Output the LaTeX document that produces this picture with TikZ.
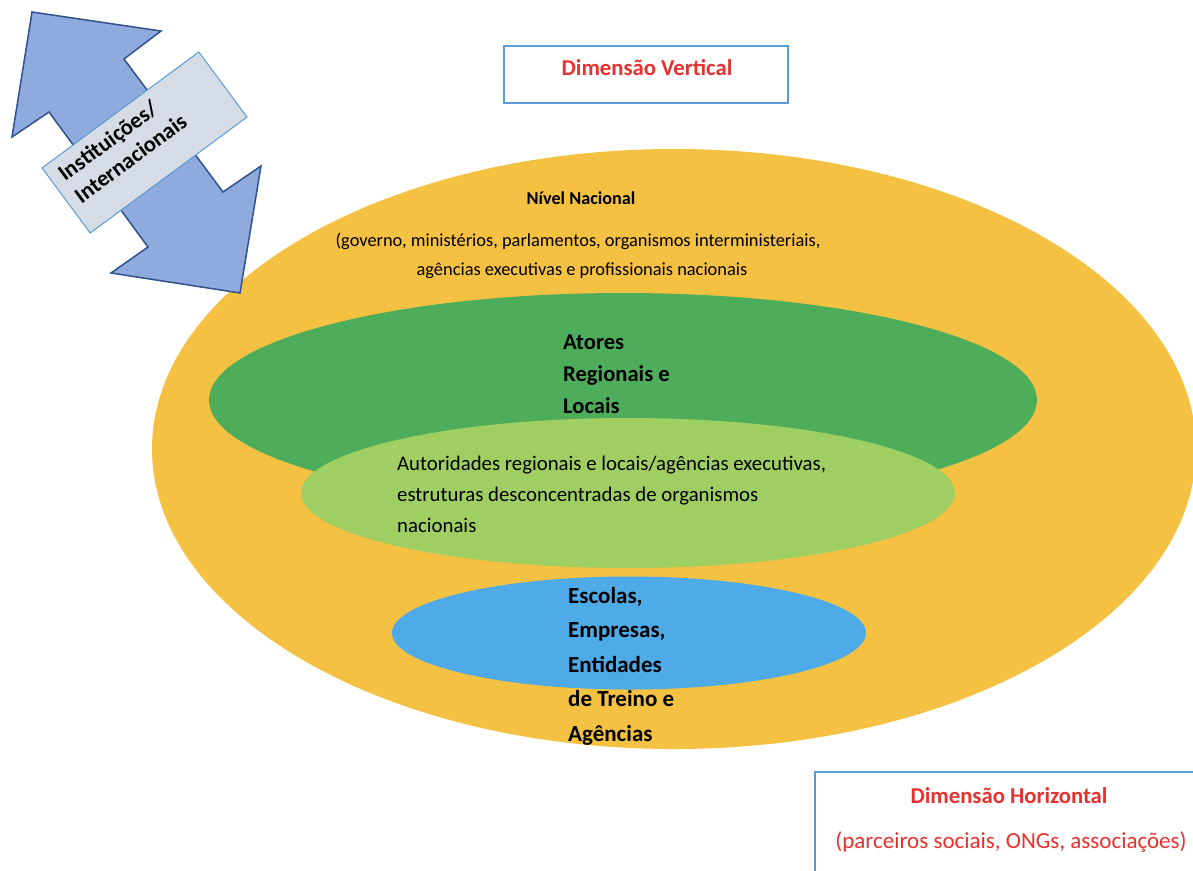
\documentclass[tikz,border=0pt]{standalone}
\usepackage{fontspec}
\setmainfont{Carlito}
\usetikzlibrary{shapes.geometric}
\definecolor{orangeY}{HTML}{F4C142}
\definecolor{dgreen}{HTML}{4EAD5B}
\definecolor{lgreen}{HTML}{9FCF63}
\definecolor{blueE}{HTML}{4EABE8}
\definecolor{arrowfill}{HTML}{8FAADC}
\definecolor{arrowline}{HTML}{2F528F}
\definecolor{boxfill}{HTML}{D6DCE5}
\definecolor{boxline}{HTML}{5B9BD5}
\definecolor{redt}{HTML}{E8312F}
\begin{document}
\begin{tikzpicture}[x=1pt,y=-1pt,
  ell/.style={ellipse, inner sep=0pt, outer sep=0pt, draw=none},
  bigbold/.style={align=left, inner sep=0pt, anchor=base west, font=\fontsize{22.6}{32}\selectfont\bfseries},
  plain/.style={inner sep=0pt, anchor=base, font=\fontsize{18.4}{28}\selectfont},
  redtitle/.style={inner sep=0pt, anchor=base, text=redt, font=\fontsize{22.7}{26}\selectfont\bfseries},
  redplain/.style={inner sep=0pt, anchor=base, text=redt, font=\fontsize{23}{26}\selectfont},
  dimbox/.style={draw=boxline, line width=1.3pt, fill=white, inner sep=0pt}
]
\useasboundingbox (0,0) rectangle (1193,870);
\clip (0,0) rectangle (1193,870);
\fill[white] (0,0) rectangle (1193,870);

% ellipses
\node[ell, fill=orangeY, minimum width=1044pt, minimum height=600pt] (nac) at (674,449) {};
\node[ell, fill=dgreen, minimum width=828pt, minimum height=214pt] (reg) at (623,400) {};
\node[ell, fill=lgreen, minimum width=654pt, minimum height=150pt] (aut) at (628,493) {};
\node[ell, fill=blueE, minimum width=474pt, minimum height=113pt] (esc) at (629,633) {};

% national texts
\node[plain, font=\fontsize{18.2}{24}\selectfont\bfseries] (nivel) at (581,204) {Nível Nacional};
\node[plain] (gov1) at (578,246) {(governo, ministérios, parlamentos, organismos interministeriais,};
\node[plain] (gov2) at (582,275) {agências executivas e profissionais nacionais};

\node[bigbold] (atores) at (563,413) {Atores\\Regionais e\\Locais};
\node[align=left, inner sep=0pt, anchor=base west, font=\fontsize{20.8}{31}\selectfont] (autt) at (397,532)
  {Autoridades regionais e locais/agências executivas,\\estruturas desconcentradas de organismos\\nacionais};
\node[bigbold, font=\fontsize{23}{34.5}\selectfont\bfseries] (esct) at (568,741)
  {Escolas,\\Empresas,\\Entidades\\de Treino e\\Agências};

% dimension boxes
\node[dimbox, minimum width=284pt, minimum height=57pt] (dv) at (646,74.5) {};
\node[redtitle] (dvt) at (647,75) {Dimensão Vertical};
\node[dimbox, minimum width=420pt, minimum height=140pt] (dh) at (1025,842) {};
\node[redtitle] (dht) at (1009,803) {Dimensão Horizontal};
\node[redplain] (dhp) at (1011,848) {(parceiros sociais, ONGs, associações)};

% double arrow
\draw[fill=arrowfill, draw=arrowline, line width=1.5pt, line join=miter]
  (32,12) -- (161,31) -- (124,59) -- (223,192) -- (261,166) -- (240,293)
  -- (111,273) -- (148,247) -- (49,112) -- (12,137) -- cycle;
\node[draw=boxline, fill=boxfill, line width=1pt, rotate=36.5, minimum width=195pt, minimum height=81pt, inner sep=0pt] (intl) at (144.5,142.5) {};
\node[align=left, inner sep=0pt, anchor=base west, rotate=36.5, font=\fontsize{22.6}{27.6}\selectfont\bfseries] (intlt) at (81.4,204.2)
  {Instituições/\\Internacionais};
\end{tikzpicture}
\end{document}
